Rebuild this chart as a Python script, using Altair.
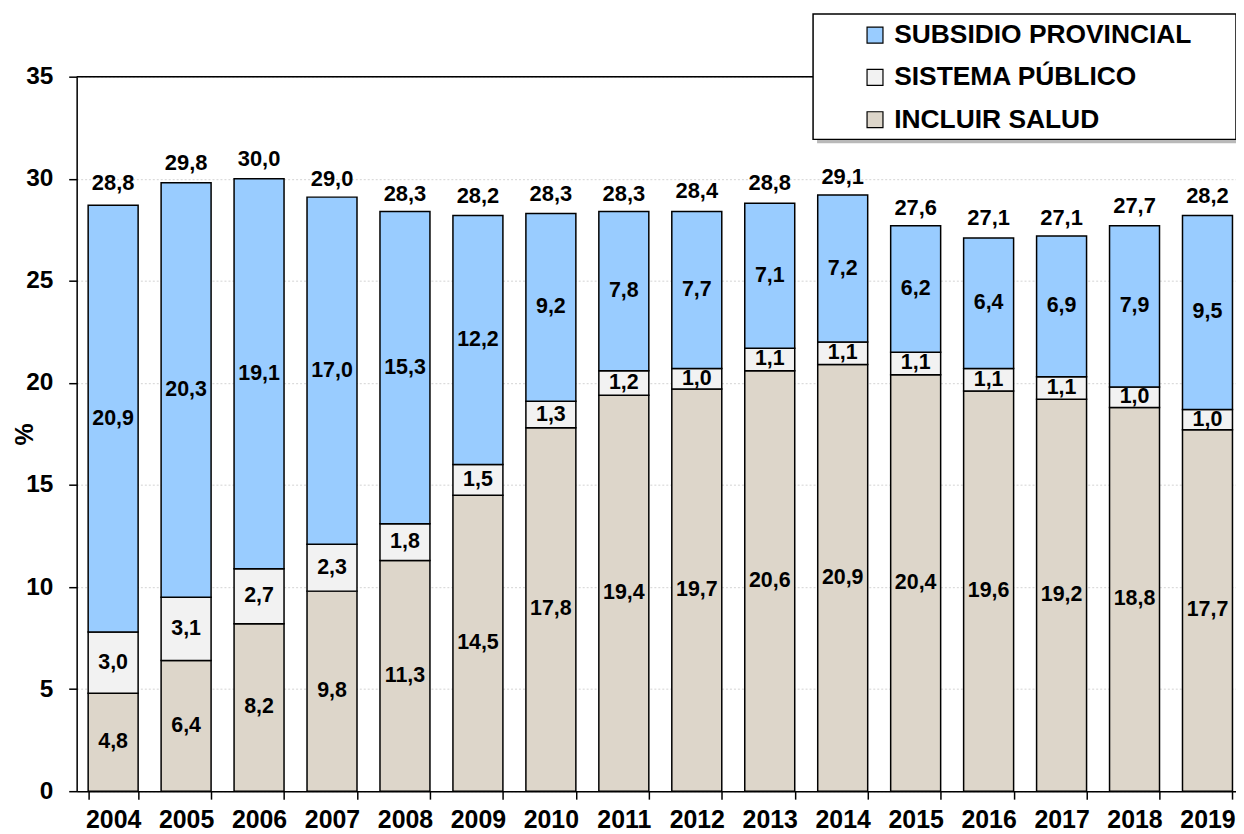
import altair as alt
import pandas as pd

years = [str(y) for y in range(2004, 2020)]
incluir = [4.8, 6.4, 8.2, 9.8, 11.3, 14.5, 17.8, 19.4, 19.7, 20.6, 20.9, 20.4, 19.6, 19.2, 18.8, 17.7]
sistema = [3.0, 3.1, 2.7, 2.3, 1.8, 1.5, 1.3, 1.2, 1.0, 1.1, 1.1, 1.1, 1.1, 1.1, 1.0, 1.0]
subsidio = [20.9, 20.3, 19.1, 17.0, 15.3, 12.2, 9.2, 7.8, 7.7, 7.1, 7.2, 6.2, 6.4, 6.9, 7.9, 9.5]
totals = [28.8, 29.8, 30.0, 29.0, 28.3, 28.2, 28.3, 28.3, 28.4, 28.8, 29.1, 27.6, 27.1, 27.1, 27.7, 28.2]

series_names = ["SUBSIDIO PROVINCIAL", "SISTEMA PÚBLICO", "INCLUIR SALUD"]
series_colors = ["#99CCFF", "#F2F2F2", "#DDD6CA"]

FONT = "Liberation Sans"


def fmt(v):
    return f"{v:.1f}".replace(".", ",")


rows = []
for i, yr in enumerate(years):
    for name, vals, o in [("INCLUIR SALUD", incluir, 0),
                          ("SISTEMA PÚBLICO", sistema, 1),
                          ("SUBSIDIO PROVINCIAL", subsidio, 2)]:
        rows.append({"year": yr, "series": name, "value": vals[i], "ord": o, "label": fmt(vals[i])})
df = pd.DataFrame(rows)
tot = pd.DataFrame({"year": years, "total": totals, "label": [fmt(t) for t in totals]})

W = 1165
H = 718

xscale = alt.Scale(domain=years, range=[0, 1173], paddingInner=0.315, paddingOuter=0.1575)
yscale = alt.Scale(domain=[0, 35], nice=False)

xaxis = alt.Axis(title=None, labelFont=FONT, labelFontSize=25, labelFontWeight="bold",
                 labelColor="black", labelAngle=0, labelPadding=8, tickBand="extent",
                 tickColor="black", tickSize=8, tickWidth=1.5, domainColor="black",
                 domainWidth=1.5, grid=False)
yaxis = alt.Axis(title="%", titleFont=FONT, titleFontSize=25, titleFontWeight="bold",
                 titleColor="black", titleAngle=270, titleX=-52, titleY=359,
                 titleAlign="center", titleBaseline="middle",
                 values=[0, 5, 10, 15, 20, 25, 30, 35], labelFont=FONT, labelFontSize=24.5,
                 labelFontWeight="bold", labelColor="black", labelPadding=16,
                 tickColor="black", tickSize=8, tickWidth=1.5, domainColor="black",
                 domainWidth=1.5, grid=True, gridColor="#D4D4D4", gridDash=[2, 2],
                 gridWidth=1)

bars = alt.Chart(df).mark_bar(stroke="black", strokeWidth=1.5).encode(
    x=alt.X("year:N", scale=xscale, axis=xaxis, sort=years),
    y=alt.Y("value:Q", stack="zero", scale=yscale, axis=yaxis),
    color=alt.Color("series:N", scale=alt.Scale(domain=series_names, range=series_colors),
                    legend=alt.Legend(title=None, orient="none", legendX=789, legendY=-55,
                                      padding=0, symbolType="square", symbolSize=256,
                                      symbolStrokeColor="black", symbolStrokeWidth=1.2,
                                      labelFont=FONT, labelFontSize=26.5, labelFontWeight="bold",
                                      labelColor="black", labelOffset=6, rowPadding=15.5,
                                      labelLimit=400)),
    order=alt.Order("ord:Q"),
)

seg_labels = alt.Chart(df).transform_stack(
    stack="value", as_=["v0", "v1"], groupby=["year"], sort=[alt.SortField("ord")]
).transform_calculate(mid="(datum.v0 + datum.v1) / 2").mark_text(
    font=FONT, fontSize=21.5, fontWeight="bold", color="black", baseline="middle"
).encode(
    x=alt.X("year:N", sort=years),
    y=alt.Y("mid:Q"),
    text="label:N",
)

tot_labels = alt.Chart(tot).mark_text(
    font=FONT, fontSize=22, fontWeight="bold", color="black", baseline="alphabetic", dy=-13
).encode(
    x=alt.X("year:N", sort=years),
    y=alt.Y("total:Q"),
    text="label:N",
)

top_rule = alt.Chart(pd.DataFrame({"v": [35]})).mark_rule(color="black", strokeWidth=1.5).encode(
    y=alt.Y("v:Q")
)

one = pd.DataFrame({"k": [0]})
shadow = alt.Chart(one).mark_rect(fill="#8A8A8A", opacity=0.6).encode(
    x=alt.value(744), x2=alt.value(1169), y=alt.value(-59), y2=alt.value(67)
)
box = alt.Chart(one).mark_rect(fill="white", stroke="black", strokeWidth=1.5).encode(
    x=alt.value(740), x2=alt.value(1165), y=alt.value(-63), y2=alt.value(63)
)

chart = alt.layer(bars, seg_labels, tot_labels, top_rule, shadow, box).properties(
    width=W, height=H,
    autosize=alt.AutoSizeParams(type="none"),
    padding={"left": 69, "top": 67, "right": 0, "bottom": 40},
).configure_view(stroke=None).configure(background="white")

chart.save("out.html", embed_options={"renderer": "svg", "actions": False})
